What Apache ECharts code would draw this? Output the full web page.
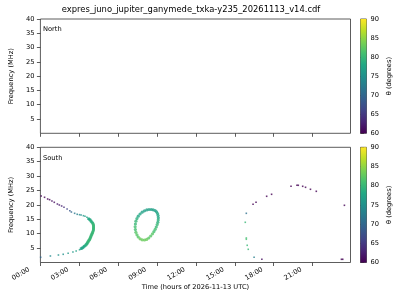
<!DOCTYPE html>
<html><head><meta charset="utf-8">
<script src="https://cdn.jsdelivr.net/npm/echarts@6/dist/echarts.min.js"></script>
<style>html,body{margin:0;padding:0;background:#fff}#c{width:400px;height:300px}</style>
</head><body><div id="c"></div>
<script>
const titleText = 'expres_juno_jupiter_ganymede_txka-y235_20261113_v14.cdf';
const panelNames = ['North', 'South'];
const hourTicks = [0, 3, 6, 9, 12, 15, 18, 21];
const hourTickLabels = ['00:00', '03:00', '06:00', '09:00', '12:00', '15:00', '18:00', '21:00'];
const freqTicks = [5, 10, 15, 20, 25, 30, 35, 40];
const thetaTicks = [60, 65, 70, 75, 80, 85, 90];
const viridis = ['#440154', '#482475', '#414487', '#355f8d', '#2a788e', '#21918c', '#22a884', '#44bf70', '#7ad151', '#bddf26', '#fde725'];

// North: no emission
const northHours = [];
const northFreq = [];
const northTheta = [];

// South: sparse points (upper branch, lower branch, late-day points)
const sparseHours = [0.06, 0.32, 0.56, 0.71, 0.89, 1.07, 1.31, 1.46, 1.64, 1.82, 2.06, 2.27, 2.39, 2.64, 2.84, 3.02, 3.14, 3.32, 3.44, 3.59,
  3.02, 2.76, 2.51, 2.14, 1.76, 1.39, 0.77, 0.02,
  19.34, 19.80, 19.90, 20.24, 20.46, 20.84, 21.29, 23.46, 17.84, 17.46, 16.64, 16.41, 15.89, 15.81, 15.89, 15.89, 15.96, 16.04, 16.49, 17.09, 23.23, 23.33];
const sparseFreq = [23.09, 22.64, 22.05, 21.81, 21.35, 20.90, 20.31, 19.97, 19.62, 19.17, 18.58, 17.99, 17.53, 17.08, 16.74, 16.60, 16.49, 16.25, 16.04, 15.69,
  4.44, 3.99, 3.65, 3.19, 2.85, 2.60, 2.26, 1.81,
  26.46, 26.81, 26.81, 26.46, 26.11, 25.42, 24.72, 19.86, 23.68, 22.99, 20.90, 20.21, 17.08, 13.96, 8.51, 8.06, 5.97, 4.58, 1.81, 1.11, 1.11, 1.11];
const sparseTheta = [60, 60, 60, 60, 61, 61, 62, 62, 63, 64, 66, 68, 70, 72, 73, 74, 75, 76, 77, 77,
  77, 77, 76, 76, 75, 75, 74, 70,
  60, 60, 60, 60, 60, 60, 60, 60, 60, 60, 60, 60, 71, 80, 81, 81, 80, 80, 73, 61, 60, 60];

// South: dense nose of the first arc
const arcHours = [3.71, 3.78, 3.84, 3.89, 3.94, 3.99, 4.04, 4.07, 4.09, 4.10, 4.10, 4.10, 4.10, 4.09, 4.09, 4.07, 4.04, 4.02, 3.99, 3.97, 3.94, 3.91, 3.89, 3.86, 3.84, 3.81, 3.79, 3.75, 3.71, 3.68, 3.66, 3.62, 3.59, 3.55, 3.51, 3.45, 3.39, 3.33, 3.26, 3.20, 3.14];
const arcFreq = [15.21, 14.98, 14.76, 14.45, 14.17, 13.90, 13.61, 13.30, 13.02, 12.72, 12.43, 12.10, 11.81, 11.55, 11.28, 10.93, 10.59, 10.33, 10.07, 9.80, 9.55, 9.25, 8.96, 8.68, 8.40, 8.15, 7.92, 7.70, 7.47, 7.24, 7.01, 6.77, 6.53, 6.30, 6.08, 5.85, 5.63, 5.38, 5.14, 4.96, 4.79];
const arcTheta = [78, 78, 78, 79, 79, 79, 79, 80, 80, 80, 80, 80, 80, 80, 80, 80, 80, 80, 80, 80, 80, 80, 80, 80, 80, 80, 80, 80, 80, 80, 80, 80, 79, 79, 79, 79, 78, 78, 78, 78, 77];

// South: closed oval near 08:00-09:00
const ovalHours = [8.55, 8.70, 8.85, 8.96, 9.04, 9.08, 9.10, 9.09, 9.06, 9.01, 8.94, 8.86, 8.76, 8.65, 8.51, 8.36, 8.20, 8.03, 7.85, 7.69, 7.55, 7.45, 7.37, 7.33, 7.31, 7.33, 7.37, 7.45, 7.55, 7.69, 7.85, 8.03, 8.21, 8.38];
const ovalFreq = [18.40, 18.30, 18.02, 17.60, 17.01, 16.28, 15.52, 14.76, 13.96, 13.16, 12.33, 11.53, 10.73, 9.97, 9.20, 8.51, 8.02, 7.81, 7.88, 8.23, 8.85, 9.62, 10.49, 11.42, 12.40, 13.37, 14.34, 15.24, 16.08, 16.84, 17.47, 17.95, 18.26, 18.40];
const ovalTheta = [77, 77, 77, 77, 78, 78, 78, 79, 79, 80, 80, 81, 81, 82, 82, 82, 83, 83, 83, 83, 82, 82, 82, 81, 81, 80, 80, 79, 78, 78, 77, 77, 77, 77];

const pts = (h, f, t) => h.map((v, i) => [v, f[i], t[i]]);
const FONT = 'DejaVu Sans';
const AX = '#333';
const FS = 6.7;

const mainGrids = [
  { left: 31.5, top: 19, width: 319, height: 114.3 },
  { left: 31.5, top: 147.3, width: 319, height: 115.2 }
];
const cbGrids = [
  { left: 360.5, top: 19, width: 6, height: 114.3 },
  { left: 360.5, top: 147.3, width: 6, height: 115.2 }
];
const grid = mainGrids.concat(cbGrids).map(g => Object.assign({ show: true, borderColor: AX, borderWidth: 0.8, backgroundColor: 'transparent' }, g));

function hourAxis(idx, showLabels) {
  return {
    type: 'value', gridIndex: idx, min: 0, max: 23.93,
    splitLine: { show: false }, axisLine: { show: false },
    axisTick: { show: true, inside: false, length: 3.5, lineStyle: { color: AX, width: 0.8 }, customValues: hourTicks },
    axisLabel: {
      show: showLabels, customValues: hourTicks, rotate: 30, margin: 0, padding: [0, 13, 0, 0],
      fontFamily: FONT, fontSize: FS, color: '#000',
      formatter: v => { const i = hourTicks.indexOf(Math.round(v * 100) / 100); return i >= 0 ? hourTickLabels[i] : ''; }
    },
    name: showLabels ? 'Time (hours of 2026-11-13 UTC)' : '',
    nameLocation: 'middle', nameGap: 21,
    nameTextStyle: { fontFamily: FONT, fontSize: FS, color: '#000' }
  };
}
function freqAxis(idx) {
  return {
    type: 'value', gridIndex: idx, min: 0, max: 40,
    splitLine: { show: false }, axisLine: { show: false },
    axisTick: { show: true, inside: false, length: 3.5, lineStyle: { color: AX, width: 0.8 }, customValues: freqTicks },
    axisLabel: { customValues: freqTicks, margin: 6, fontFamily: FONT, fontSize: FS, color: '#000' },
    name: 'Frequency (MHz)', nameLocation: 'middle', nameRotate: 90, nameGap: 18.5,
    nameTextStyle: { fontFamily: FONT, fontSize: FS, color: '#000' }
  };
}
function cbXAxis(idx) {
  return { type: 'value', gridIndex: idx, min: 0, max: 1, show: false };
}
function cbYAxis(idx) {
  return {
    type: 'value', gridIndex: idx, min: 60, max: 90, interval: 5, position: 'right',
    splitLine: { show: false }, axisLine: { show: false },
    axisTick: { show: true, inside: false, length: 3.5, lineStyle: { color: AX, width: 0.8 }, customValues: thetaTicks },
    axisLabel: { customValues: thetaTicks, margin: 4, fontFamily: FONT, fontSize: FS, color: '#000' },
    name: 'θ (degrees)', nameLocation: 'middle', nameRotate: 90, nameGap: 19,
    nameTextStyle: { fontFamily: FONT, fontSize: FS, color: '#000' }
  };
}

const stops = viridis.map((c, i) => ({ offset: i / (viridis.length - 1), color: c }));
function cbSeries(idx) {
  return {
    type: 'custom', xAxisIndex: idx, yAxisIndex: idx, silent: true, clip: false,
    data: [[0, 60, 1, 90]],
    renderItem: (p, api) => {
      const a = api.coord([api.value(0), api.value(1)]);
      const b = api.coord([api.value(2), api.value(3)]);
      return { type: 'rect', shape: { x: a[0], y: b[1], width: b[0] - a[0], height: a[1] - b[1] },
        style: { fill: new echarts.graphic.LinearGradient(0, 1, 0, 0, stops) } };
    }
  };
}

const chart = echarts.init(document.getElementById('c'), null, { renderer: 'canvas' });
chart.setOption({
  animation: false,
  backgroundColor: '#fff',
  title: [
    { text: titleText, left: 191, top: 6, padding: 0, textAlign: 'center', textStyle: { fontFamily: FONT, fontSize: 8.4, fontWeight: 'normal', color: '#000' } },
    { text: panelNames[0], left: 43, top: 25.5, padding: 0, textStyle: { fontFamily: FONT, fontSize: FS, fontWeight: 'normal', color: '#000' } },
    { text: panelNames[1], left: 43, top: 154.5, padding: 0, textStyle: { fontFamily: FONT, fontSize: FS, fontWeight: 'normal', color: '#000' } }
  ],
  grid: grid,
  xAxis: [hourAxis(0, false), hourAxis(1, true), cbXAxis(2), cbXAxis(3)],
  yAxis: [freqAxis(0), freqAxis(1), cbYAxis(2), cbYAxis(3)],
  visualMap: {
    show: false, type: 'continuous', min: 60, max: 90, dimension: 2,
    seriesIndex: [0, 1, 2, 3], inRange: { color: viridis }
  },
  series: [
    { type: 'scatter', xAxisIndex: 0, yAxisIndex: 0, symbol: 'rect', symbolSize: 1.6, data: pts(northHours, northFreq, northTheta) },
    { type: 'scatter', xAxisIndex: 1, yAxisIndex: 1, symbol: 'rect', symbolSize: 1.6, data: pts(sparseHours, sparseFreq, sparseTheta) },
    { type: 'scatter', xAxisIndex: 1, yAxisIndex: 1, symbol: 'rect', symbolSize: 2.6, data: pts(arcHours, arcFreq, arcTheta) },
    { type: 'scatter', xAxisIndex: 1, yAxisIndex: 1, symbol: 'circle', symbolSize: 3.2, data: pts(ovalHours, ovalFreq, ovalTheta) },
    cbSeries(2), cbSeries(3)
  ]
});
</script></body></html>
